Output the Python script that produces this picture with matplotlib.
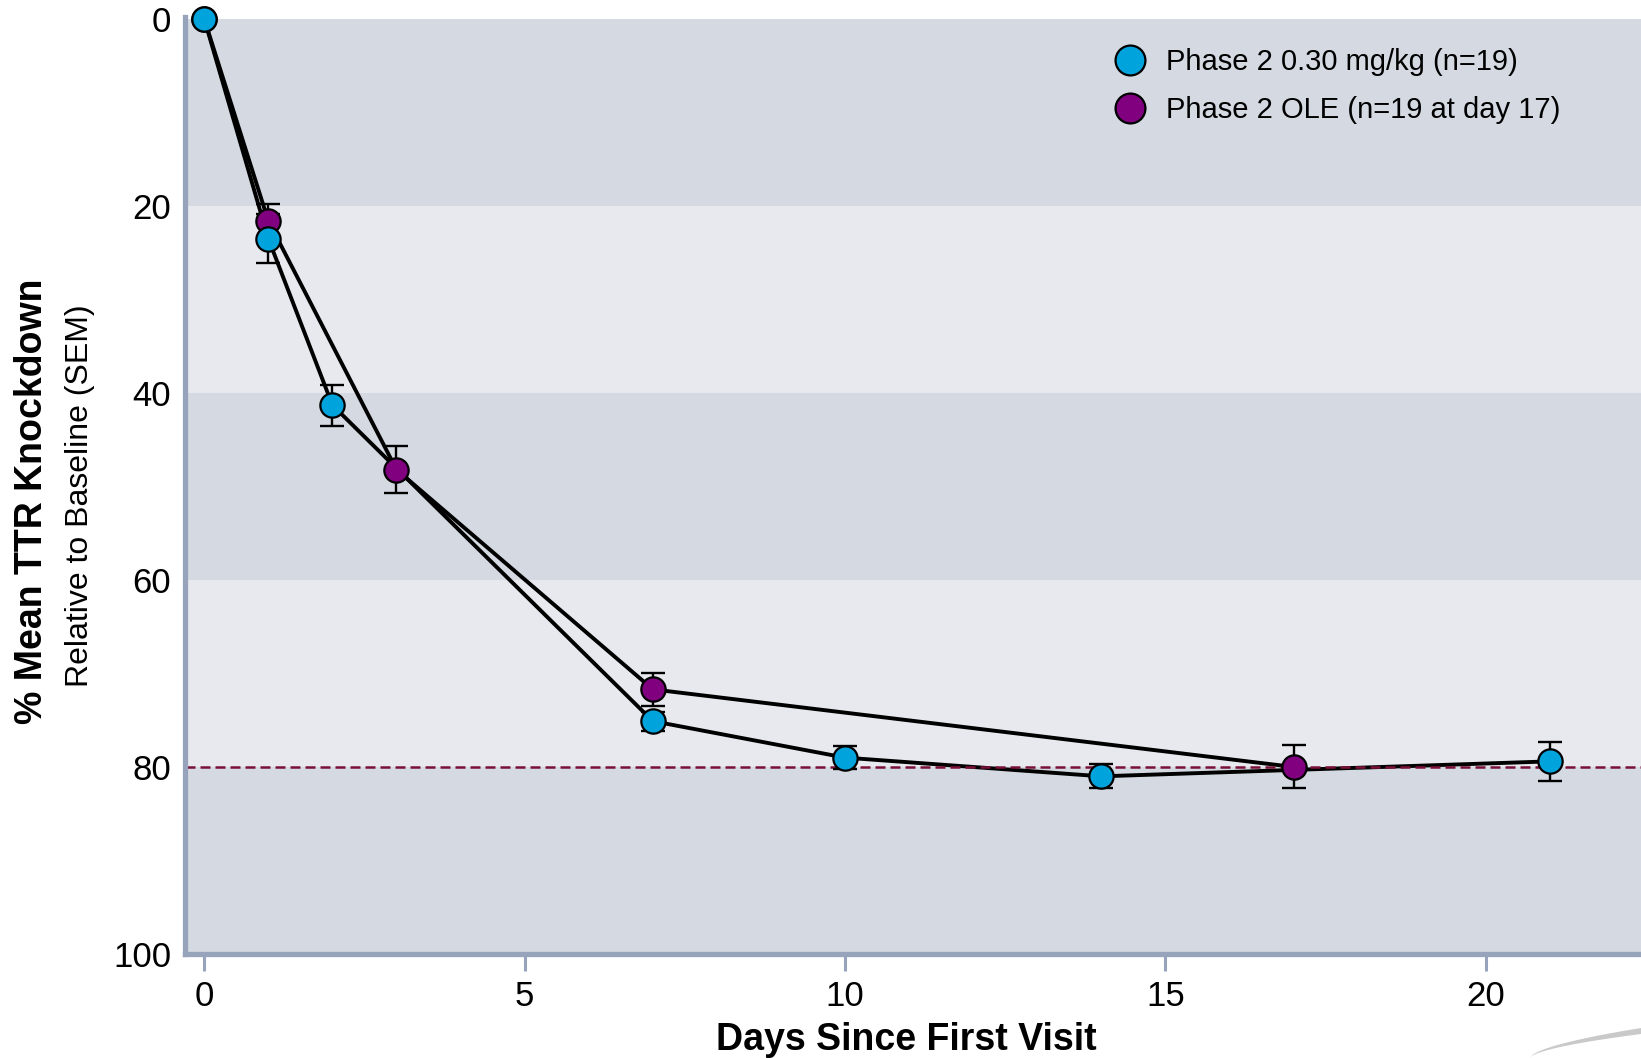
import numpy as np
import matplotlib
matplotlib.use('agg')
import matplotlib.pyplot as plt
from matplotlib.lines import Line2D

plt.rcParams['font.family'] = ['Liberation Sans', 'DejaVu Sans']

# Phase 2 0.30 mg/kg
blue_days = [0, 1, 2, 7, 10, 14, 21]
blue_mean = [0, 23.5, 41.3, 75.1, 79.0, 81.0, 79.4]
blue_sem = [0, 2.6, 2.2, 1.0, 1.2, 1.3, 2.1]

# Phase 2 OLE
ole_days = [0, 1, 3, 7, 17]
ole_mean = [0, 21.6, 48.2, 71.7, 80.0]
ole_sem = [0, 1.8, 2.5, 1.8, 2.3]

series_labels = ["Phase 2 0.30 mg/kg (n=19)", "Phase 2 OLE (n=19 at day 17)"]
target_line = 80
band_edges = [0, 20, 40, 60, 80, 100]
x_ticks = [0, 5, 10, 15, 20]
y_ticks = [0, 20, 40, 60, 80, 100]

BLUE = '#00a3dc'
PURPLE = '#800080'
SPINE = '#96a3bb'
DARK_BAND = '#d4d9e2'
LIGHT_BAND = '#e8e9ef'

fig = plt.figure(figsize=(16.41, 10.58), dpi=100)
ax = fig.add_axes((185 / 1641, 104 / 1058, 1 - 185 / 1641, 937 / 1058))

# Alternating horizontal bands
for i in range(len(band_edges) - 1):
    ax.axhspan(band_edges[i], band_edges[i + 1],
               color=DARK_BAND if i % 2 == 0 else LIGHT_BAND, lw=0, zorder=0)

ax.axhline(target_line, color='#7a1038', lw=1.8, ls=(0, (4, 2)), zorder=2.5)

# Connecting lines, then error bars, then markers on top
for days, mean, sem, color, z in [(ole_days, ole_mean, ole_sem, PURPLE, 4),
                                  (blue_days, blue_mean, blue_sem, BLUE, 5)]:
    ax.plot(days, mean, color='k', lw=2.8, zorder=2, clip_on=False,
            solid_joinstyle='round')
    ax.errorbar(days, mean, yerr=sem, fmt='none', ecolor='k', elinewidth=1.7,
                capsize=8.5, capthick=1.7, zorder=3)
    ax.plot(days, mean, ls='none', marker='o', ms=17.5, mfc=color, mec='k',
            mew=1.6, zorder=z, clip_on=False)

ax.set_xlim(-0.3, 22.42)
ax.set_ylim(100, -0.2)
ax.set_xticks(x_ticks)
ax.set_yticks(y_ticks)

for side in ['top', 'right']:
    ax.spines[side].set_visible(False)
for side in ['left', 'bottom']:
    ax.spines[side].set_color(SPINE)
    ax.spines[side].set_linewidth(3.8)
    ax.spines[side].set_capstyle('projecting')

ax.tick_params(axis='x', length=12, width=2.2, color=SPINE, pad=7,
               labelsize=25)
ax.tick_params(axis='y', length=0, pad=10, labelsize=25)

# Axis titles
fig.text(42 / 1641, 1 - 501 / 1058, "% Mean TTR Knockdown", rotation=90,
         rotation_mode='anchor', ha='center', va='baseline',
         fontsize=27, fontweight='bold')
fig.text(88 / 1641, 1 - 496 / 1058, "Relative to Baseline (SEM)", rotation=90,
         rotation_mode='anchor', ha='center', va='baseline', fontsize=23)
fig.text(906 / 1641, 1 - 1050 / 1058, "Days Since First Visit",
         ha='center', va='baseline', fontsize=27, fontweight='bold')

handles = [Line2D([], [], ls='none', marker='o', ms=21.5, mfc=BLUE, mec='k',
                  mew=1.6),
           Line2D([], [], ls='none', marker='o', ms=21.5, mfc=PURPLE, mec='k',
                  mew=1.6)]
fig.legend(handles, series_labels, loc='upper left',
           bbox_to_anchor=(1115 / 1641, 1 - 48 / 1058), frameon=False,
           fontsize=21, handlelength=1.0, handletextpad=0.75,
           labelspacing=0.68, borderpad=0, borderaxespad=0)

# Decorative swoosh in the bottom-right corner
t = np.linspace(0, 1, 50)
sx = (1530 + 111 * t) / 1641
fig.patches.append(plt.Polygon(
    np.column_stack([np.concatenate([sx, sx[::-1]]),
                     np.concatenate([30 * t ** 0.6 / 1058,
                                     24 * t[::-1] ** 0.6 / 1058])]),
    closed=True, transform=fig.transFigure, color='#c9c9c9', lw=0))

fig.savefig('out.png', dpi=100)
